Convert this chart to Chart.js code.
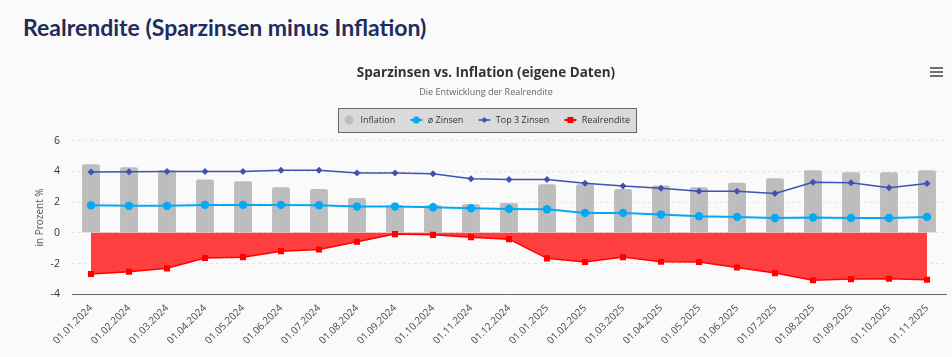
<!DOCTYPE html>
<html>
<head>
<meta charset="utf-8">
<script src="https://cdn.jsdelivr.net/npm/chart.js@4/dist/chart.umd.min.js"></script>
<style>
html,body{margin:0;padding:0;background:#fafafa;width:952px;height:357px;overflow:hidden;}
#pageTitle{position:absolute;left:23px;top:16px;margin:0;font:700 23px/23px Lato,sans-serif;color:#1e2d5e;white-space:nowrap;}
#wrap{position:absolute;left:26px;top:50px;width:926px;height:307px;}
#menu{position:absolute;left:930px;top:67px;width:13px;}
#menu span{display:block;height:2px;background:#707070;margin-bottom:2px;}
</style>
</head>
<body>
<h1 id="pageTitle">Realrendite (Sparzinsen minus Inflation)</h1>
<div id="menu"><span></span><span></span><span></span></div>
<div id="wrap"><canvas id="c"></canvas></div>
<script>
const labels = ['01.01.2024','01.02.2024','01.03.2024','01.04.2024','01.05.2024','01.06.2024','01.07.2024','01.08.2024','01.09.2024','01.10.2024','01.11.2024','01.12.2024','01.01.2025','01.02.2025','01.03.2025','01.04.2025','01.05.2025','01.06.2025','01.07.2025','01.08.2025','01.09.2025','01.10.2025','01.11.2025'];
const inflation = [4.46, 4.27, 4.07, 3.47, 3.36, 2.97, 2.86, 2.27, 1.80, 1.80, 1.86, 1.95, 3.16, 3.16, 2.86, 3.08, 2.97, 3.27, 3.55, 4.07, 3.94, 3.94, 4.07];
const avgRates = [1.80, 1.76, 1.76, 1.82, 1.82, 1.82, 1.80, 1.71, 1.71, 1.67, 1.60, 1.56, 1.54, 1.30, 1.30, 1.19, 1.08, 1.04, 0.97, 1.00, 0.97, 0.97, 1.04];
const top3Rates = [3.96, 3.98, 4.00, 4.00, 4.00, 4.07, 4.07, 3.90, 3.90, 3.85, 3.53, 3.47, 3.47, 3.23, 3.05, 2.90, 2.71, 2.71, 2.56, 3.29, 3.27, 2.94, 3.21];
const realReturn = [-2.68, -2.53, -2.31, -1.64, -1.58, -1.19, -1.08, -0.58, -0.08, -0.13, -0.28, -0.41, -1.66, -1.90, -1.58, -1.88, -1.90, -2.25, -2.62, -3.09, -3.01, -2.99, -3.05];
const seriesNames = ['Inflation', 'ø Zinsen', 'Top 3 Zinsen', 'Realrendite'];

const GREY = '#bdbdbd', LBLUE = '#03a9f4', INDIGO = '#3f51b5', RED = '#ff0000';

Chart.defaults.font.family = '"Open Sans", sans-serif';

function icon(draw) {
  const c = document.createElement('canvas');
  c.width = 14; c.height = 10;
  draw(c.getContext('2d'));
  return c;
}
const legendIcons = [
  icon(g => { g.fillStyle = GREY; g.beginPath(); g.arc(7, 5, 4.5, 0, Math.PI * 2); g.fill(); }),
  icon(g => { g.strokeStyle = LBLUE; g.lineWidth = 2; g.beginPath(); g.moveTo(1, 5); g.lineTo(13, 5); g.stroke(); g.fillStyle = LBLUE; g.beginPath(); g.arc(7, 5, 3.5, 0, Math.PI * 2); g.fill(); }),
  icon(g => { g.strokeStyle = INDIGO; g.lineWidth = 1.5; g.beginPath(); g.moveTo(1, 5); g.lineTo(13, 5); g.stroke(); g.fillStyle = INDIGO; g.beginPath(); g.moveTo(7, 2); g.lineTo(10, 5); g.lineTo(7, 8); g.lineTo(4, 5); g.closePath(); g.fill(); }),
  icon(g => { g.strokeStyle = RED; g.lineWidth = 2; g.beginPath(); g.moveTo(1, 5); g.lineTo(13, 5); g.stroke(); g.fillStyle = RED; g.fillRect(4, 2, 6, 6); })
];

// frame drawn behind the legend items
const legendFrame = {
  id: 'legendFrame',
  beforeDraw(chart) {
    const boxes = chart.legend && chart.legend.legendHitBoxes;
    if (!boxes || !boxes.length) return;
    const l = Math.round(Math.min(...boxes.map(b => b.left)) - 4.5) + 0.5;
    const r = Math.round(Math.max(...boxes.map(b => b.left + b.width)) + 6) + 0.5;
    const cy = boxes[0].top + boxes[0].height / 2;
    const t = Math.round(cy - 12) + 0.5;
    const ctx = chart.ctx;
    ctx.save();
    ctx.fillStyle = '#dadada';
    ctx.fillRect(l, t, r - l, 24);
    ctx.strokeStyle = '#666';
    ctx.lineWidth = 1;
    ctx.strokeRect(l, t, r - l, 24);
    ctx.restore();
  }
};

// empty layout box: spacing between legend and plot area
const legendGap = {
  id: 'legendGap',
  beforeInit(chart) {
    const box = {
      position: 'top', weight: 500, fullSize: true, options: {},
      width: 0, height: 0, left: 0, top: 0, right: 0, bottom: 0,
      update(maxWidth) { this.width = maxWidth; this.height = 6.2; },
      isHorizontal() { return true; },
      draw() {}
    };
    Chart.layouts.addBox(chart, box);
  }
};

new Chart(document.getElementById('c'), {
  type: 'bar',
  data: {
    labels: labels,
    datasets: [
      { type: 'bar', label: seriesNames[0], data: inflation, backgroundColor: GREY,
        borderRadius: { topLeft: 2, topRight: 2 }, borderSkipped: 'start',
        barPercentage: 0.47, categoryPercentage: 1, order: 1 },
      { type: 'line', label: seriesNames[1], data: avgRates, borderColor: LBLUE, backgroundColor: LBLUE,
        borderWidth: 2, pointStyle: 'circle', pointRadius: 4.2, pointBorderWidth: 0, tension: 0, order: 0 },
      { type: 'line', label: seriesNames[2], data: top3Rates, borderColor: INDIGO, backgroundColor: INDIGO,
        borderWidth: 1.5, pointStyle: 'rectRot', pointRadius: 3.5, pointBorderWidth: 0, tension: 0, order: 0 },
      { type: 'line', label: seriesNames[3], data: realReturn, borderColor: RED, backgroundColor: 'rgba(255,0,0,0.75)',
        pointBackgroundColor: RED, fill: 'origin', borderWidth: 1.5, pointStyle: 'rect', pointRadius: 4.3,
        pointBorderWidth: 0, tension: 0, order: 0 }
    ]
  },
  options: {
    responsive: true,
    maintainAspectRatio: false,
    animation: false,
    events: [],
    layout: { padding: { left: 0, right: 6, top: 0, bottom: 0 } },
    plugins: {
      title: { display: true, text: 'Sparzinsen vs. Inflation (eigene Daten)', color: '#333',
        font: { size: 13.5, weight: 'bold' }, padding: { top: 14.9, bottom: 0 } },
      subtitle: { display: true, text: 'Die Entwicklung der Realrendite', color: '#666',
        font: { size: 9 }, padding: { top: 5.5, bottom: 4.1 } },
      legend: {
        position: 'top',
        labels: {
          usePointStyle: true, pointStyleWidth: 14, padding: 14, color: '#333', font: { size: 9 },
          generateLabels(chart) {
            const items = Chart.defaults.plugins.legend.labels.generateLabels(chart);
            items.sort((a, b) => a.datasetIndex - b.datasetIndex);
            items.forEach(it => { it.pointStyle = legendIcons[it.datasetIndex]; it.rotation = 0; });
            return items;
          }
        }
      },
      tooltip: { enabled: false }
    },
    scales: {
      x: {
        grid: { display: false, drawTicks: false },
        border: { display: true, color: '#666', width: 1 },
        ticks: { color: '#4a4a4a', font: { size: 10 }, minRotation: 45, maxRotation: 45, autoSkip: false, padding: 8 },
        afterFit(s) { s.height = 62.7; }
      },
      y: {
        min: -4, max: 6,
        ticks: { stepSize: 2, color: '#333', font: { size: 10.5 }, padding: 12 },
        grid: { color: '#e6e6e6', drawTicks: false },
        border: { display: false, dash: [3, 3] },
        title: { display: true, text: 'in Prozent %', color: '#555', font: { size: 10 }, padding: { top: 8, bottom: 0 } },
        afterFit(s) { s.width = 46; }
      }
    }
  },
  plugins: [legendFrame, legendGap]
});
</script>
</body>
</html>
